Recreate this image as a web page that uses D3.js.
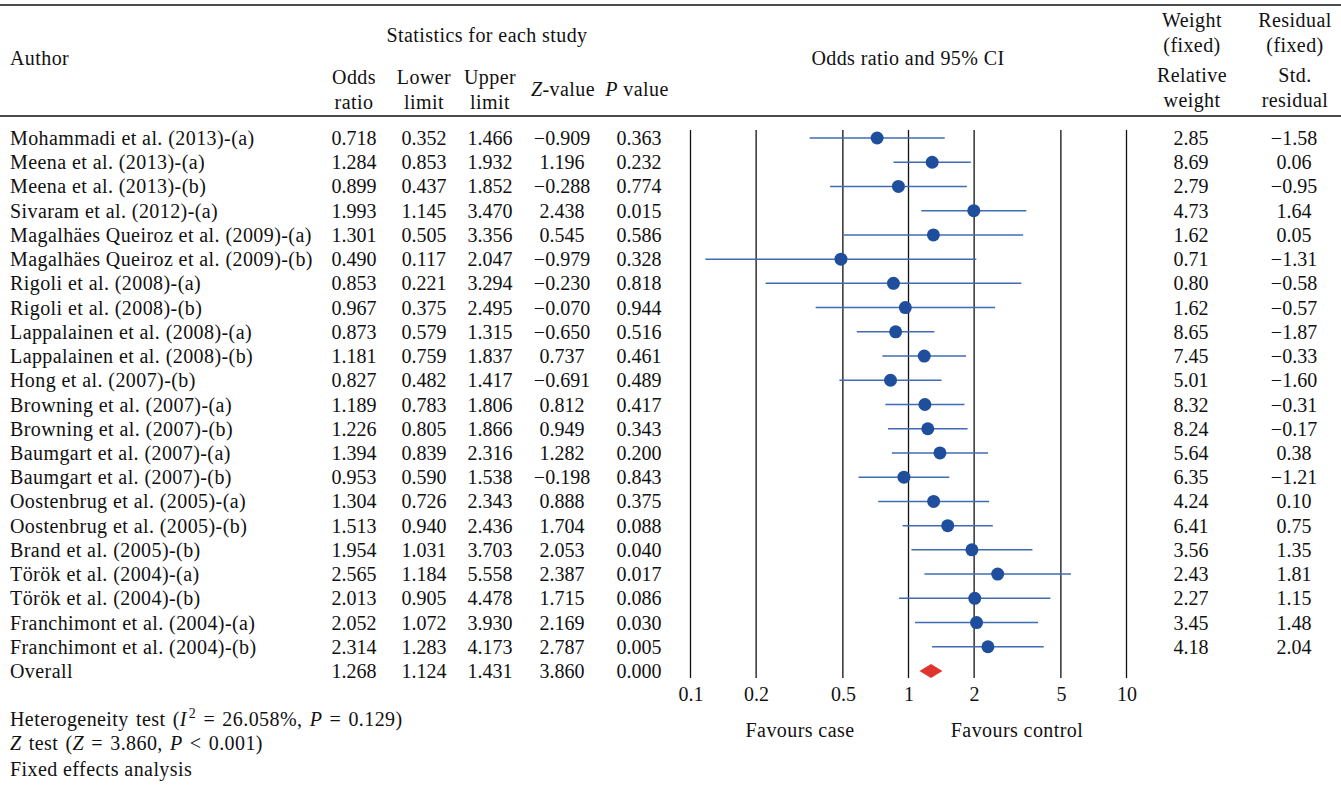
<!DOCTYPE html>
<html>
<head>
<meta charset="utf-8">
<script src="https://cdn.jsdelivr.net/npm/d3@7"></script>
<style>
  body { margin: 0; background: #fff; }
  svg { display: block; font-family: "Liberation Serif", "Times New Roman", serif; }
  text { fill: #111; }
  .wide { letter-spacing: 0.42px; }
</style>
</head>
<body>
<svg id="chart"></svg>
<script>
const authors = [
  "Mohammadi et al. (2013)-(a)", "Meena et al. (2013)-(a)", "Meena et al. (2013)-(b)",
  "Sivaram et al. (2012)-(a)", "Magalhäes Queiroz et al. (2009)-(a)", "Magalhäes Queiroz et al. (2009)-(b)",
  "Rigoli et al. (2008)-(a)", "Rigoli et al. (2008)-(b)", "Lappalainen et al. (2008)-(a)",
  "Lappalainen et al. (2008)-(b)", "Hong et al. (2007)-(b)", "Browning et al. (2007)-(a)",
  "Browning et al. (2007)-(b)", "Baumgart et al. (2007)-(a)", "Baumgart et al. (2007)-(b)",
  "Oostenbrug et al. (2005)-(a)", "Oostenbrug et al. (2005)-(b)", "Brand et al. (2005)-(b)",
  "Török et al. (2004)-(a)", "Török et al. (2004)-(b)", "Franchimont et al. (2004)-(a)",
  "Franchimont et al. (2004)-(b)", "Overall"
]
const oddsRatio = [0.718, 1.284, 0.899, 1.993, 1.301, 0.490, 0.853, 0.967, 0.873, 1.181, 0.827, 1.189, 1.226, 1.394, 0.953, 1.304, 1.513, 1.954, 2.565, 2.013, 2.052, 2.314, 1.268]
const lowerLimit = [0.352, 0.853, 0.437, 1.145, 0.505, 0.117, 0.221, 0.375, 0.579, 0.759, 0.482, 0.783, 0.805, 0.839, 0.590, 0.726, 0.940, 1.031, 1.184, 0.905, 1.072, 1.283, 1.124]
const upperLimit = [1.466, 1.932, 1.852, 3.470, 3.356, 2.047, 3.294, 2.495, 1.315, 1.837, 1.417, 1.806, 1.866, 2.316, 1.538, 2.343, 2.436, 3.703, 5.558, 4.478, 3.930, 4.173, 1.431]
const zValue = [-0.909, 1.196, -0.288, 2.438, 0.545, -0.979, -0.230, -0.070, -0.650, 0.737, -0.691, 0.812, 0.949, 1.282, -0.198, 0.888, 1.704, 2.053, 2.387, 1.715, 2.169, 2.787, 3.860]
const pValue = [0.363, 0.232, 0.774, 0.015, 0.586, 0.328, 0.818, 0.944, 0.516, 0.461, 0.489, 0.417, 0.343, 0.200, 0.843, 0.375, 0.088, 0.040, 0.017, 0.086, 0.030, 0.005, 0.000]
const relWeight = [2.85, 8.69, 2.79, 4.73, 1.62, 0.71, 0.80, 1.62, 8.65, 7.45, 5.01, 8.32, 8.24, 5.64, 6.35, 4.24, 6.41, 3.56, 2.43, 2.27, 3.45, 4.18]
const stdResidual = [-1.58, 0.06, -0.95, 1.64, 0.05, -1.31, -0.58, -0.57, -1.87, -0.33, -1.60, -0.31, -0.17, 0.38, -1.21, 0.10, 0.75, 1.35, 1.81, 1.15, 1.48, 2.04]
const tickValues = [0.1, 0.2, 0.5, 1, 2, 5, 10]

const width = 1341
const height = 786
const fontSize = 20

const svg = d3.select("#chart")
  .attr("width", width)
  .attr("height", height)

const fmt3 = d3.format(".3f")
const fmt2 = d3.format(".2f")
const minus = s => s.replace("-", "\u2212")

const y = d3.scalePoint()
  .domain(d3.range(authors.length))
  .range([138, 671])

const x = d3.scaleLog()
  .domain([0.1, 10])
  .range([690.5, 1126.5])

// rules
svg.append("line").attr("x1", 0).attr("x2", width).attr("y1", 5).attr("y2", 5)
  .attr("stroke", "#111").attr("stroke-width", 1.5)
svg.append("line").attr("x1", 0).attr("x2", width).attr("y1", 116).attr("y2", 116)
  .attr("stroke", "#111").attr("stroke-width", 1.5)

// header
const header = svg.append("g").attr("font-size", fontSize).attr("class", "wide")
const headText = (tx, ty, str, anchor = "middle") =>
  header.append("text").attr("x", tx).attr("y", ty).attr("dy", "0.35em")
    .attr("text-anchor", anchor).text(str)

headText(10, 58, "Author", "start")
headText(487, 35, "Statistics for each study")
headText(354, 77, "Odds"); headText(354, 102, "ratio")
headText(424, 77, "Lower"); headText(424, 102, "limit")
headText(490, 77, "Upper"); headText(490, 102, "limit")
const zh = headText(563, 89, "")
zh.append("tspan").attr("font-style", "italic").text("Z")
zh.append("tspan").text("-value")
const ph = headText(637, 89, "")
ph.append("tspan").attr("font-style", "italic").text("P")
ph.append("tspan").text(" value")
headText(908, 58, "Odds ratio and 95% CI")
headText(1192, 20, "Weight"); headText(1192, 45, "(fixed)")
headText(1192, 75, "Relative"); headText(1192, 100, "weight")
headText(1295, 20, "Residual"); headText(1295, 45, "(fixed)")
headText(1295, 75, "Std."); headText(1295, 100, "residual")

// table body
const rows = svg.append("g").attr("font-size", fontSize)
  .selectAll("g")
  .data(authors)
  .join("g")
  .attr("transform", (d, i) => `translate(0,${y(i)})`)

rows.append("text").attr("class", "wide").attr("x", 10).attr("dy", "0.35em").text(d => d)

const cols = [
  { cx: 354, vals: oddsRatio, f: fmt3 },
  { cx: 424, vals: lowerLimit, f: fmt3 },
  { cx: 490, vals: upperLimit, f: fmt3 },
  { cx: 562, vals: zValue, f: fmt3 },
  { cx: 639, vals: pValue, f: fmt3 },
  { cx: 1191, vals: relWeight, f: fmt2 },
  { cx: 1294, vals: stdResidual, f: fmt2 }
]
cols.forEach(c => {
  rows.filter((d, i) => c.vals[i] !== undefined)
    .append("text")
    .attr("x", c.cx)
    .attr("dy", "0.35em")
    .attr("text-anchor", "middle")
    .text((d, i) => minus(c.f(c.vals[i])))
})

// grid lines at tick values
svg.append("g")
  .selectAll("line")
  .data(tickValues)
  .join("line")
  .attr("x1", d => x(d)).attr("x2", d => x(d))
  .attr("y1", 130).attr("y2", 678)
  .attr("stroke", "#111").attr("stroke-width", 1.3)

// axis labels
const axis = d3.axisBottom(x)
  .tickValues(tickValues)
  .tickFormat(d3.format("~g"))
  .tickSize(0)
  .tickPadding(0)
const axisG = svg.append("g")
  .attr("transform", "translate(0,687)")
  .call(axis)
axisG.select(".domain").remove()
axisG.selectAll("text")
  .attr("font-family", "Liberation Serif, serif")
  .attr("font-size", fontSize)
  .attr("fill", "#111")

svg.append("text").attr("class", "wide").attr("x", 800).attr("y", 730).attr("dy", "0.35em")
  .attr("text-anchor", "middle").attr("font-size", fontSize).text("Favours case")
svg.append("text").attr("class", "wide").attr("x", 1017).attr("y", 730).attr("dy", "0.35em")
  .attr("text-anchor", "middle").attr("font-size", fontSize).text("Favours control")

// study CIs and points
const nStudies = authors.length - 1
const studies = d3.range(nStudies)
const marks = svg.append("g")
marks.selectAll("line")
  .data(studies)
  .join("line")
  .attr("x1", i => x(lowerLimit[i])).attr("x2", i => x(upperLimit[i]))
  .attr("y1", i => y(i)).attr("y2", i => y(i))
  .attr("stroke", "#3f6cb3").attr("stroke-width", 1.5)
marks.selectAll("circle")
  .data(studies)
  .join("circle")
  .attr("cx", i => x(oddsRatio[i]))
  .attr("cy", i => y(i))
  .attr("r", 6.5)
  .attr("fill", "#1f4f9c")

// overall diamond
const o = nStudies
const yo = y(o)
svg.append("path")
  .attr("d", `M${x(lowerLimit[o])},${yo} L${x(oddsRatio[o])},${yo - 7} L${x(upperLimit[o])},${yo} L${x(oddsRatio[o])},${yo + 7} Z`)
  .attr("fill", "#e0352e")

// footnotes
const foot = svg.append("g").attr("font-size", fontSize).attr("class", "wide")
  .style("word-spacing", "1.8px")
const h1 = foot.append("text").attr("x", 10).attr("y", 719).attr("dy", "0.35em")
h1.append("tspan").text("Heterogeneity test (")
h1.append("tspan").attr("font-style", "italic").text("I")
h1.append("tspan").attr("font-size", 14).attr("dx", 2).attr("dy", "-0.6em").text("2")
h1.append("tspan").attr("dy", "0.42em").text(" = 26.058%, ")
h1.append("tspan").attr("font-style", "italic").text("P")
h1.append("tspan").text(" = 0.129)")
const h2 = foot.append("text").attr("x", 10).attr("y", 743).attr("dy", "0.35em")
h2.append("tspan").attr("font-style", "italic").text("Z")
h2.append("tspan").text(" test (")
h2.append("tspan").attr("font-style", "italic").text("Z")
h2.append("tspan").text(" = 3.860, ")
h2.append("tspan").attr("font-style", "italic").text("P")
h2.append("tspan").text(" < 0.001)")
foot.append("text").attr("x", 10).attr("y", 769).attr("dy", "0.35em")
  .style("word-spacing", "0px").text("Fixed effects analysis")
</script>
</body>
</html>
